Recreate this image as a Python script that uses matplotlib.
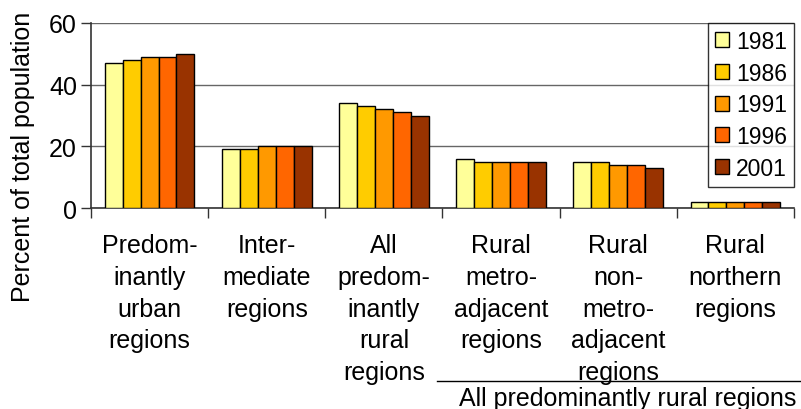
import matplotlib.pyplot as plt
import matplotlib.transforms as mtransforms
import numpy as np

plt.rcParams['font.family'] = ['Liberation Sans', 'DejaVu Sans']

categories = ['Predom-\ninantly\nurban\nregions',
              'Inter-\nmediate\nregions',
              'All\npredom-\ninantly\nrural\nregions',
              'Rural\nmetro-\nadjacent\nregions',
              'Rural\nnon-\nmetro-\nadjacent\nregions',
              'Rural\nnorthern\nregions']
years = ['1981', '1986', '1991', '1996', '2001']
v1981 = [47, 19, 34, 16, 15, 2]
v1986 = [48, 19, 33, 15, 15, 2]
v1991 = [49, 20, 32, 15, 14, 2]
v1996 = [49, 20, 31, 15, 14, 2]
v2001 = [50, 20, 30, 15, 13, 2]
colors = ['#FFFF99', '#FFCC00', '#FF9900', '#FF6600', '#993300']

series = [v1981, v1986, v1991, v1996, v2001]
fs = 18

fig = plt.figure(figsize=(8.01, 4.10), dpi=100)
ax = fig.add_axes([0.1136, 0.490, 0.8776, 0.4515])

x = np.arange(len(categories))
w = 0.153
for i, (vals, yr, c) in enumerate(zip(series, years, colors)):
    ax.bar(x + (i - 2) * w, vals, width=w, color=c, edgecolor='black',
           linewidth=1.0, label=yr, zorder=3)

ax.set_xlim(-0.5, 5.5)
ax.set_ylim(0, 60)
ax.set_yticks([0, 20, 40, 60])
ax.tick_params(axis='y', labelsize=fs, length=7, width=1, color='#333333', pad=3)
ax.yaxis.grid(True, color='#666666', linewidth=1, zorder=0)

ax.set_xticks(x)
ax.set_xticklabels(categories, fontsize=fs, linespacing=1.41, va='top')
ax.tick_params(axis='x', length=0, pad=18)
ax.set_xticks(np.arange(-0.5, 6.0, 1.0), minor=True)
ax.tick_params(axis='x', which='minor', length=7, width=1, color='#333333')

for s in ['top', 'right']:
    ax.spines[s].set_visible(False)
for s in ['left', 'bottom']:
    ax.spines[s].set_color('#333333')
    ax.spines[s].set_linewidth(1.2)

# y label sits centred on the plot plus category labels, not on the axes alone
fig.text(23 / 801, 1 - 157 / 410, 'Percent of total population', fontsize=fs,
         rotation=90, ha='center', va='center')

# bracket line and caption under the three rural sub-groups
trans = mtransforms.blended_transform_factory(ax.transData, fig.transFigure)
ax.plot([2.45, 5.6], [1 - 382 / 410, 1 - 382 / 410], color='black', linewidth=1,
        transform=trans, clip_on=False)
ax.text(4.08, 1 - 399 / 410, 'All predominantly rural regions', fontsize=fs,
        ha='center', va='center', transform=trans)

leg = ax.legend(loc='upper right', bbox_to_anchor=(1.0, 1.0), fontsize=16.5,
                frameon=True, fancybox=False, shadow=False, borderpad=0.3,
                handlelength=0.62, handleheight=0.62, handletextpad=0.3,
                labelspacing=0.38, borderaxespad=0)
leg.get_frame().set_edgecolor('black')
leg.get_frame().set_linewidth(1)

fig.savefig('out.png', dpi=100)
